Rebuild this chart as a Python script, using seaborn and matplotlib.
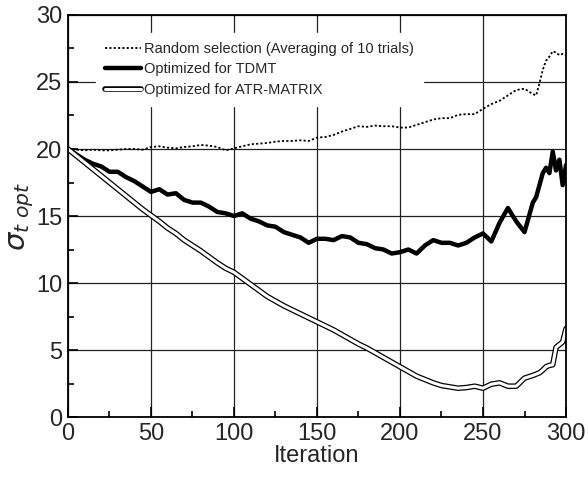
import pandas as pd
import matplotlib
matplotlib.use('Agg')
import matplotlib.pyplot as plt
from matplotlib.ticker import MultipleLocator
import seaborn as sns

# iterations (coarser in the middle, finer near the end where the curves wiggle)
iteration = list(range(0, 280, 5)) + list(range(280, 301, 2))

random_sel = [20.0, 19.95, 19.9, 19.95, 19.9, 19.9, 19.95, 20.0, 20.0, 19.95,
              20.15, 20.2, 20.1, 20.05, 20.15, 20.2, 20.3, 20.25, 20.15, 19.9,
              20.05, 20.2, 20.35, 20.4, 20.45, 20.55, 20.6, 20.6, 20.65, 20.6,
              20.85, 20.9, 21.05, 21.3, 21.5, 21.7, 21.65, 21.75, 21.7, 21.7,
              21.6, 21.6, 21.8, 22.0, 22.2, 22.3, 22.3, 22.55, 22.6, 22.6,
              23.0, 23.35, 23.6, 24.0, 24.4, 24.5,
              24.1, 24.0, 24.9, 25.9, 26.6, 26.9, 27.3, 27.2, 27.0, 27.1, 27.0]

tdmt = [20.0, 19.6, 19.2, 18.9, 18.7, 18.3, 18.3, 17.9, 17.6, 17.2,
        16.8, 17.0, 16.6, 16.7, 16.2, 16.0, 16.0, 15.7, 15.3, 15.2,
        15.0, 15.2, 14.8, 14.6, 14.3, 14.2, 13.8, 13.6, 13.4, 13.0,
        13.3, 13.3, 13.2, 13.5, 13.4, 13.0, 12.9, 12.6, 12.5, 12.2,
        12.3, 12.5, 12.2, 12.8, 13.2, 13.0, 13.0, 12.8, 13.0, 13.4,
        13.7, 13.1, 14.5, 15.6, 14.6, 13.8,
        16.0, 16.4, 17.3, 18.2, 18.6, 18.2, 19.8, 18.4, 19.2, 17.3, 18.8]

atr = [20.0, 19.5, 19.0, 18.5, 18.0, 17.5, 17.0, 16.5, 16.0, 15.5,
       15.05, 14.6, 14.1, 13.7, 13.2, 12.8, 12.4, 11.95, 11.5, 11.1,
       10.8, 10.35, 9.9, 9.45, 9.0, 8.65, 8.3, 8.0, 7.7, 7.4,
       7.1, 6.8, 6.5, 6.15, 5.8, 5.45, 5.15, 4.8, 4.45, 4.1,
       3.75, 3.4, 3.05, 2.8, 2.55, 2.35, 2.25, 2.15, 2.2, 2.3,
       2.15, 2.45, 2.55, 2.3, 2.3, 2.9,
       3.1, 3.2, 3.3, 3.5, 3.75, 3.85, 3.9, 5.2, 5.4, 5.6, 6.6]

labels = ['Random selection (Averaging of 10 trials)',
          'Optimized for TDMT',
          'Optimized for ATR-MATRIX']

df = pd.DataFrame({'iteration': iteration, 'random': random_sel,
                   'tdmt': tdmt, 'atr': atr})

sns.set_style('ticks')
plt.rcParams['font.family'] = ['Liberation Sans', 'DejaVu Sans']
plt.rcParams['mathtext.fontset'] = 'dejavusans'

fig = plt.figure(figsize=(5.88, 4.79), dpi=100)
ax = fig.add_axes([0.1156, 0.1294, 0.8470, 0.8393])

sns.lineplot(data=df, x='iteration', y='random', ax=ax, color='black',
             lw=1.3, linestyle=(0, (1.2, 1.2)), estimator=None, sort=False)
sns.lineplot(data=df, x='iteration', y='tdmt', ax=ax, color='black',
             lw=3.2, estimator=None, sort=False)
sns.lineplot(data=df, x='iteration', y='atr', ax=ax, color='black',
             lw=4.0, estimator=None, sort=False)
sns.lineplot(data=df, x='iteration', y='atr', ax=ax, color='white',
             lw=2.2, estimator=None, sort=False)

lines = ax.get_lines()
handles = [lines[0], lines[1], (lines[2], lines[3])]
leg = ax.legend(handles, labels, loc='upper left', bbox_to_anchor=(0.056, 0.955),
                borderaxespad=0, frameon=True, fancybox=False, framealpha=1,
                facecolor='white', edgecolor='white', fontsize=10.5,
                handlelength=2.5, handletextpad=0.2, labelspacing=0.45,
                borderpad=0.6)

ax.set_xlim(0, 300)
ax.set_ylim(0, 30)
ax.xaxis.set_major_locator(MultipleLocator(50))
ax.xaxis.set_minor_locator(MultipleLocator(25))
ax.yaxis.set_major_locator(MultipleLocator(5))
ax.yaxis.set_minor_locator(MultipleLocator(2.5))
ax.grid(True, which='major', color='#222222', lw=0.9)
ax.set_axisbelow(True)
ax.tick_params(which='both', direction='in', top=False, right=False,
               width=1.2, color='black')
ax.tick_params(which='major', length=7, labelsize=17, pad=4)
ax.tick_params(which='minor', length=4)
for s in ax.spines.values():
    s.set_color('black')
    s.set_linewidth(1.3)

ax.set_xlabel('Iteration', fontsize=17, labelpad=0)
ax.set_ylabel(r'$\sigma_{t\ opt}$', fontsize=21, labelpad=0)

fig.savefig('out.png', dpi=100)
